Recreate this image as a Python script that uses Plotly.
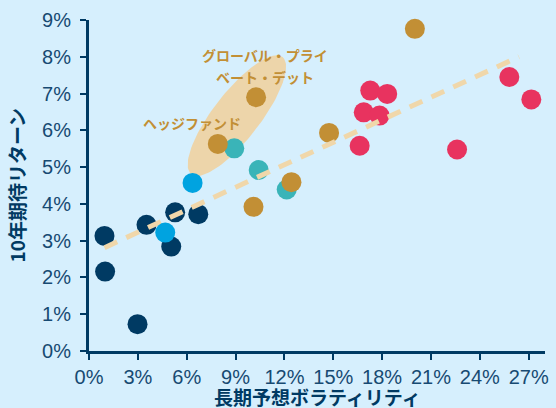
import numpy as np
import plotly.graph_objects as go

# ---- data (volatility %, expected return %) ----
navy_x = [0.95, 0.99, 2.98, 3.53, 5.05, 5.29, 6.71]
navy_y = [3.13, 2.16, 0.73, 3.43, 2.84, 3.77, 3.72]

lblue_x = [4.68, 6.36]
lblue_y = [3.22, 4.57]

teal_x = [8.92, 10.42, 12.14]
teal_y = [5.51, 4.92, 4.39]

gold_x = [7.91, 10.26, 10.10, 12.43, 14.74, 20.01]
gold_y = [5.63, 6.90, 3.92, 4.59, 5.93, 8.76]

red_x = [17.27, 18.31, 16.87, 17.84, 16.62, 22.60, 25.81, 27.16]
red_y = [7.08, 6.99, 6.49, 6.40, 5.58, 5.48, 7.45, 6.84]

trend_x = [0.95, 26.4]
trend_y = [2.81, 8.00]

x_ticks = [0, 3, 6, 9, 12, 15, 18, 21, 24, 27]
x_labels = [f"{v}%" for v in x_ticks]
y_ticks = list(range(0, 10))
y_labels = [f"{v}%" for v in y_ticks]

# ellipse (highlight of hedge funds / global private debt)
ell_center = (9.08, 6.40)

W, H = 556, 408
ML, MR, MT, MB = 89, 7, 20, 57
XR = [0, 28]
YR = [0, 9]
pxx = (W - ML - MR) / (XR[1] - XR[0])
pxy = (H - MT - MB) / (YR[1] - YR[0])

a_px, b_px, ang = 74.5, 23.5, np.deg2rad(51.8)
t = np.linspace(0, 2 * np.pi, 120)
ex = a_px * np.cos(t) * np.cos(ang) - b_px * np.sin(t) * np.sin(ang)
ey = a_px * np.cos(t) * np.sin(ang) + b_px * np.sin(t) * np.cos(ang)
ell_x = ell_center[0] + ex / pxx
ell_y = ell_center[1] + ey / pxy

NAVY = "#003a63"
TXT = "#174a72"
GOLD = "#c28f35"
BG = "#d6effd"

fig = go.Figure()
fig.add_trace(go.Scatter(x=ell_x, y=ell_y, mode="lines", fill="toself",
                         fillcolor="#edd5aa", line=dict(width=0), hoverinfo="skip"))

def pts(x, y, c):
    fig.add_trace(go.Scatter(x=x, y=y, mode="markers", cliponaxis=False,
                             marker=dict(size=20, color=c, line=dict(width=0))))

pts(navy_x, navy_y, NAVY)
pts(teal_x, teal_y, "#3ab4b8")
pts(gold_x, gold_y, GOLD)
pts(red_x, red_y, "#e8335f")
fig.add_trace(go.Scatter(x=trend_x, y=trend_y, mode="lines",
                         line=dict(color="#f0d7aa", width=5, dash="14px,10px")))
pts(lblue_x, lblue_y, "#00a3e0")

ann_font = dict(family="Noto Sans CJK JP", size=14, color=GOLD)
fig.add_annotation(x=10.78, y=8.05, xref="x", yref="y", showarrow=False,
                   text="<b>グローバル・プライ</b>", font=ann_font)
fig.add_annotation(x=10.78, y=7.45, xref="x", yref="y", showarrow=False,
                   text="<b>ベート・デット</b>", font=ann_font)
fig.add_annotation(x=6.3, y=6.2, xref="x", yref="y", showarrow=False,
                   text="<b>ヘッジファンド</b>", font=ann_font)

fig.add_annotation(x=0.5, y=0, xref="paper", yref="paper", yshift=-45,
                   xanchor="center", yanchor="middle",
                   showarrow=False, text="<b>長期予想ボラティリティ</b>",
                   font=dict(family="Noto Sans CJK JP", size=19, color=NAVY))
fig.add_annotation(x=0, y=0.5, xref="paper", yref="paper", xshift=-73,
                   xanchor="center", yanchor="middle",
                   showarrow=False, textangle=-90, text="<b>10年期待リターン</b>",
                   font=dict(family="Noto Sans CJK JP", size=19, color=NAVY))

axis_common = dict(showgrid=False, zeroline=False, showline=True, linecolor=NAVY,
                   linewidth=3, ticks="outside", ticklen=6, tickwidth=2, tickcolor=NAVY,
                   tickfont=dict(family="Liberation Sans", size=20, color=TXT))
fig.update_xaxes(range=XR, tickvals=x_ticks, ticktext=x_labels, **axis_common)
fig.update_yaxes(range=YR, tickvals=y_ticks, ticktext=y_labels,
                 ticklabelstandoff=5, **axis_common)

fig.update_layout(width=W, height=H, margin=dict(l=ML, r=MR, t=MT, b=MB),
                  paper_bgcolor=BG, plot_bgcolor=BG, showlegend=False)
fig.write_html("out.html")
